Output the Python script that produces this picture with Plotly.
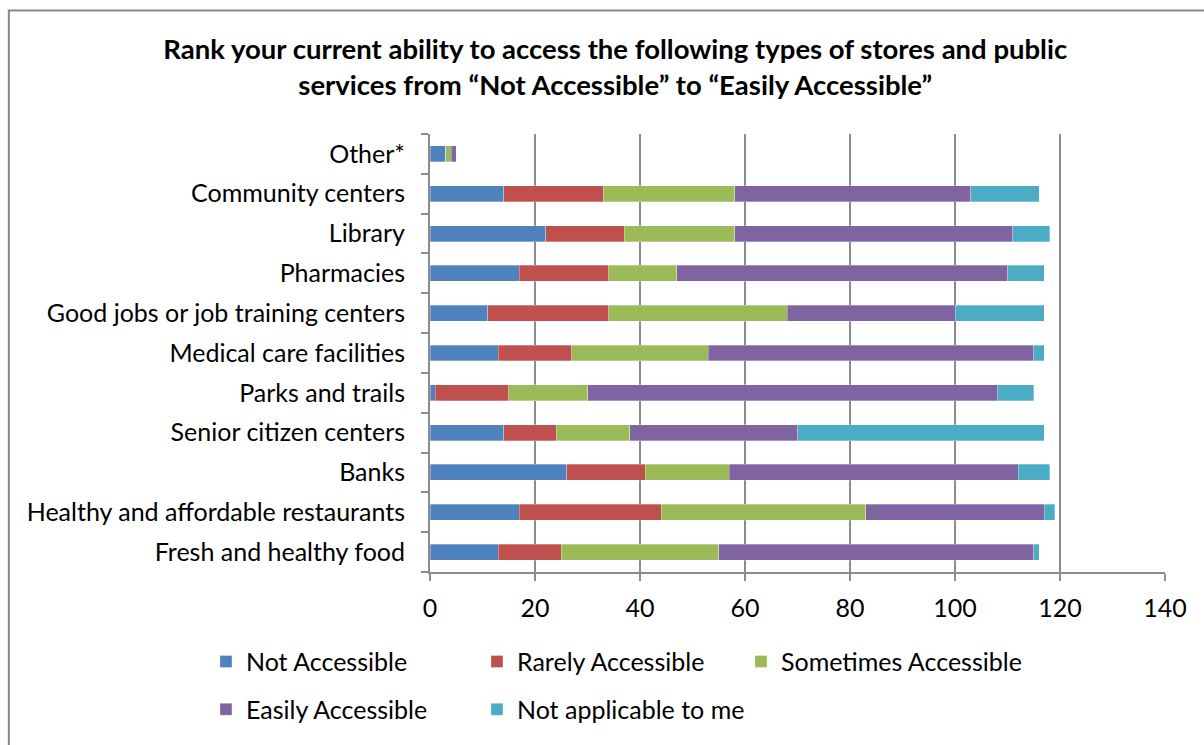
import plotly.graph_objects as go

categories = ["Fresh and healthy food", "Healthy and affordable restaurants", "Banks",
              "Senior citizen centers", "Parks and trails", "Medical care facilities",
              "Good jobs or job training centers", "Pharmacies", "Library",
              "Community centers", "Other*"]

not_accessible = [13, 17, 26, 14, 1, 13, 11, 17, 22, 14, 3]
rarely_accessible = [12, 27, 15, 10, 14, 14, 23, 17, 15, 19, 0]
sometimes_accessible = [30, 39, 16, 14, 15, 26, 34, 13, 21, 25, 1]
easily_accessible = [60, 34, 55, 32, 78, 62, 32, 63, 53, 45, 1]
not_applicable = [1, 2, 6, 47, 7, 2, 17, 7, 7, 13, 0]

series_names = ["Not Accessible", "Rarely Accessible", "Sometimes Accessible",
                "Easily Accessible", "Not applicable to me"]
series_values = [not_accessible, rarely_accessible, sometimes_accessible,
                 easily_accessible, not_applicable]
colors = ["#4F81BD", "#C0504D", "#9BBB59", "#8064A2", "#4BACC6"]

FONT = "Lato"
FS = 25

# one legend per entry, laid out as two rows like the original
legend_ids = ["legend2", "legend3", "legend4", "legend5", "legend6"]
legend_xy = [(-0.3048, -0.205), (0.0639, -0.205), (0.4231, -0.205),
             (-0.3048, -0.314), (0.0639, -0.314)]

fig = go.Figure()
for name, vals, col, lg in zip(series_names, series_values, colors, legend_ids):
    fig.add_trace(go.Bar(
        y=categories, x=vals, name=name, orientation="h",
        marker=dict(color=col, line=dict(color="rgba(255,255,255,0.6)", width=0.5)),
        legend=lg, showlegend=True,
    ))

legend_layout = {}
for lg, (lx, ly) in zip(legend_ids, legend_xy):
    legend_layout[lg] = dict(orientation="h", x=lx, xanchor="left", y=ly, yanchor="middle",
                             font=dict(family=FONT, size=FS), bgcolor="rgba(0,0,0,0)",
                             visible=True)

fig.update_layout(
    barmode="stack",
    bargap=0.6,
    width=1204, height=745,
    paper_bgcolor="white", plot_bgcolor="white",
    font=dict(family=FONT, size=FS, color="black"),
    margin=dict(l=430, r=39, t=134, b=169),
    showlegend=True,
    title=dict(
        text="<b>Rank your current ability to access the following types of stores and public<br>services from “Not Accessible” to “Easily Accessible”</b>",
        x=0.511, xanchor="center", y=0.921, yanchor="middle",
        font=dict(family=FONT, size=27.5, color="black"),
    ),
    shapes=[dict(type="rect", xref="paper", yref="paper",
                 x0=-0.573, x1=1.1, y0=-0.5, y1=1.282,
                 line=dict(color="#888888", width=2), fillcolor="rgba(0,0,0,0)",
                 layer="below")],
    **legend_layout,
)

fig.update_xaxes(
    range=[0, 140], tick0=0, dtick=20,
    showgrid=True, gridcolor="#8c8c8c", gridwidth=2,
    showline=True, linecolor="#8c8c8c", linewidth=2,
    ticks="outside", ticklen=7, tickcolor="#8c8c8c", tickwidth=2,
    ticklabelstandoff=6,
    zeroline=False, fixedrange=True,
    tickfont=dict(family=FONT, size=FS),
)
fig.update_yaxes(
    type="category", categoryorder="array", categoryarray=categories,
    showline=True, linecolor="#8c8c8c", linewidth=2,
    ticks="outside", ticklen=7, tickcolor="#8c8c8c", tickwidth=2,
    tickson="boundaries", showgrid=False,
    ticklabelstandoff=18,
    tickfont=dict(family=FONT, size=FS),
)

fig.write_html("out.html", config={"displayModeBar": False},
               post_script="document.body.style.margin='0';")
